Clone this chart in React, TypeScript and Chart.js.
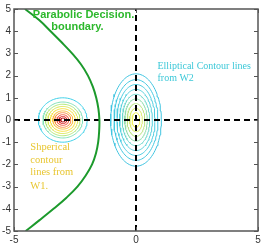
import React, { useEffect, useRef } from "react";
import { Chart, registerables } from "chart.js";

Chart.register(...registerables);

// Decision boundary points
const boundaryY = [5, 4.5, 4, 3.5, 3, 2.5, 2, 1.5, 1, 0.5, 0, -0.5, -1, -1.5, -2, -2.5, -3, -3.5, -4, -4.5, -5];
const boundaryX = [-4.55, -3.97, -3.5, -3.05, -2.62, -2.25, -1.97, -1.77, -1.63, -1.54, -1.5, -1.51, -1.55, -1.64, -1.8, -2.06, -2.4, -2.85, -3.38, -3.94, -4.52];

// Spherical contours (class W1)
const sphereCenter = [-3, 0];
const sphereRadii = [1.0, 0.81, 0.71, 0.61, 0.51, 0.41, 0.33, 0.24, 0.16, 0.09];
const sphereColors = ["#3fd0e8", "#80e0b8", "#b0e878", "#dce858", "#f6e040", "#f8c040", "#f89048", "#f06048", "#e03030", "#b01010"];

// Elliptical contours (class W2)
const ellipseCenter = [0, 0];
const ellipseRx = [1.04, 0.9, 0.78, 0.67, 0.56, 0.46, 0.36, 0.26, 0.16];
const ellipseRy = [2.08, 1.82, 1.6, 1.38, 1.16, 0.95, 0.74, 0.53, 0.33];
const ellipseColors = ["#40c4e0", "#44c8e0", "#4ccce0", "#58d0dc", "#6cd6cc", "#90dcac", "#bce484", "#dcec70", "#f0f060"];

const xTicks = [-5, 0, 5];
const yTicks = [-5, -4, -3, -2, -1, 0, 1, 2, 3, 4, 5];

function ringPoints(cx: number, cy: number, rx: number, ry: number) {
  const pts: { x: number; y: number }[] = [];
  const n = 96;
  for (let i = 0; i <= n; i++) {
    const t = (i / n) * Math.PI * 2;
    pts.push({ x: cx + rx * Math.cos(t), y: cy + ry * Math.sin(t) });
  }
  return pts;
}

const framePlugin = {
  id: "frame",
  afterDatasetsDraw(chart: any) {
    const { ctx, chartArea: a, scales } = chart;
    const xs = scales.x;
    const ys = scales.y;
    ctx.save();
    const put = (txt: string, x: number, y: number, align: CanvasTextAlign) => {
      ctx.textAlign = align;
      ctx.textBaseline = "middle";
      ctx.fillText(txt, xs.getPixelForValue(x), ys.getPixelForValue(y));
    };
    ctx.fillStyle = "#2cb82c";
    ctx.font = "bold 11px 'Liberation Sans', Arial, sans-serif";
    put("Parabolic Decision.", -2.15, 4.73, "center");
    put("boundary.", -2.4, 4.19, "center");
    ctx.fillStyle = "#3cc8d8";
    ctx.font = "10px 'Liberation Serif', serif";
    put("Elliptical Contour lines", 0.88, 2.42, "left");
    put("from W2", 0.88, 1.88, "left");
    ctx.fillStyle = "#e8c630";
    ctx.font = "10.5px 'Liberation Serif', serif";
    put("Shperical", -4.33, -1.23, "left");
    put("contour", -4.33, -1.81, "left");
    put("lines from", -4.33, -2.35, "left");
    put("W1.", -4.33, -2.98, "left");

    ctx.strokeStyle = "#555";
    ctx.lineWidth = 1.5;
    ctx.strokeRect(a.left, a.top, a.right - a.left, a.bottom - a.top);
    ctx.lineWidth = 1;
    ctx.beginPath();
    yTicks.forEach((v) => {
      const p = Math.round(ys.getPixelForValue(v)) + 0.5;
      ctx.moveTo(a.left, p);
      ctx.lineTo(a.left + 4, p);
      ctx.moveTo(a.right, p);
      ctx.lineTo(a.right - 4, p);
    });
    xTicks.forEach((v) => {
      const p = Math.round(xs.getPixelForValue(v)) + 0.5;
      ctx.moveTo(p, a.bottom);
      ctx.lineTo(p, a.bottom - 4);
      ctx.moveTo(p, a.top);
      ctx.lineTo(p, a.top + 4);
    });
    ctx.stroke();
    ctx.restore();
  },
};

export default function App() {
  const ref = useRef<HTMLCanvasElement>(null);
  useEffect(() => {
    document.body.style.margin = "0";
    const datasets: any[] = [];
    sphereRadii.forEach((r, i) => {
      datasets.push({
        data: ringPoints(sphereCenter[0], sphereCenter[1], r, r),
        borderColor: sphereColors[i],
        borderWidth: 1,
        showLine: true,
        pointRadius: 0,
        order: 5,
      });
    });
    ellipseRx.forEach((rx, i) => {
      datasets.push({
        data: ringPoints(ellipseCenter[0], ellipseCenter[1], rx, ellipseRy[i]),
        borderColor: ellipseColors[i],
        borderWidth: 1,
        showLine: true,
        pointRadius: 0,
        order: 5,
      });
    });
    datasets.push({
      data: [{ x: -5, y: 0 }, { x: 5, y: 0 }],
      borderColor: "#000",
      borderWidth: 2,
      borderDash: [6, 4],
      showLine: true,
      pointRadius: 0,
      order: 2,
    });
    datasets.push({
      data: [{ x: 0, y: -5 }, { x: 0, y: 5 }],
      borderColor: "#000",
      borderWidth: 2,
      borderDash: [6, 4],
      showLine: true,
      pointRadius: 0,
      order: 2,
    });
    datasets.push({
      data: boundaryX.map((x, i) => ({ x, y: boundaryY[i] })),
      borderColor: "#1c9a2c",
      borderWidth: 2,
      showLine: true,
      tension: 0.4,
      pointRadius: 0,
      order: 1,
    });

    const chart = new Chart(ref.current!, {
      type: "scatter",
      data: { datasets },
      plugins: [framePlugin],
      options: {
        animation: false,
        responsive: false,
        maintainAspectRatio: false,
        layout: { padding: { top: 8, right: 7, left: 0, bottom: 0 } },
        plugins: { legend: { display: false }, tooltip: { enabled: false } },
        scales: {
          x: {
            type: "linear",
            min: -5,
            max: 5,
            afterBuildTicks: (s: any) => {
              s.ticks = xTicks.map((v) => ({ value: v }));
            },
            afterFit: (s: any) => {
              s.height = 18;
            },
            ticks: { font: { size: 10, family: "'Liberation Sans', Arial, sans-serif" }, color: "#333", padding: 3, maxRotation: 0 },
            grid: { display: false, drawTicks: false },
            border: { display: false },
          },
          y: {
            type: "linear",
            min: -5,
            max: 5,
            afterBuildTicks: (s: any) => {
              s.ticks = yTicks.map((v) => ({ value: v }));
            },
            afterFit: (s: any) => {
              s.width = 14;
            },
            ticks: { font: { size: 10, family: "'Liberation Sans', Arial, sans-serif" }, color: "#333", padding: 3 },
            grid: { display: false, drawTicks: false },
            border: { display: false },
          },
        },
      },
    });
    return () => chart.destroy();
  }, []);
  return (
    <div style={{ width: 265, height: 249, background: "#fff" }}>
      <canvas ref={ref} width={265} height={249} style={{ display: "block" }} />
    </div>
  );
}
